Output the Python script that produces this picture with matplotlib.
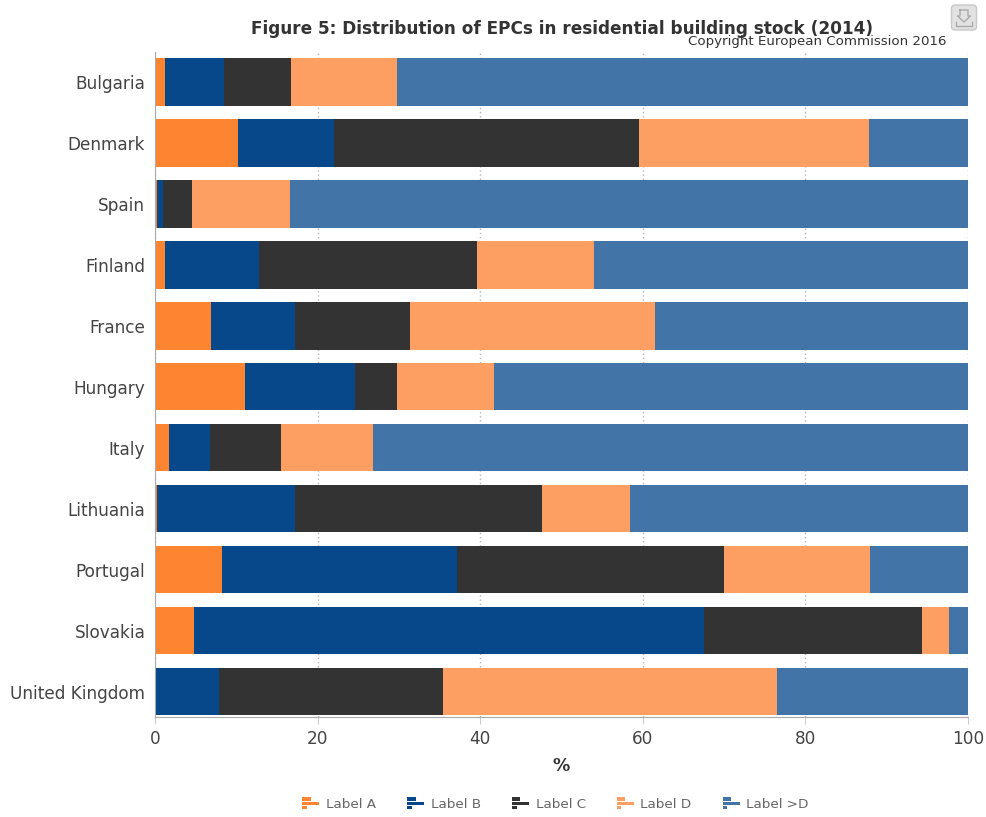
import matplotlib
matplotlib.use("Agg")
import matplotlib.pyplot as plt
import numpy as np
from matplotlib.legend_handler import HandlerBase
from matplotlib.patches import FancyBboxPatch, Rectangle
from matplotlib.lines import Line2D

countries = ["Bulgaria", "Denmark", "Spain", "Finland", "France", "Hungary",
             "Italy", "Lithuania", "Portugal", "Slovakia", "United Kingdom"]
label_a = [1.2, 10.2, 0.2, 1.2, 6.9, 11.1, 1.7, 0.3, 8.3, 4.8, 0.1]
label_b = [7.3, 11.8, 0.8, 11.6, 10.3, 13.5, 5.1, 16.9, 28.8, 62.7, 7.8]
label_c = [8.2, 37.5, 3.5, 26.8, 14.2, 5.2, 8.7, 30.4, 32.9, 26.9, 27.5]
label_d = [13.1, 28.3, 12.1, 14.4, 30.1, 11.9, 11.3, 10.8, 18.0, 3.3, 41.1]
label_gt_d = [70.2, 12.2, 83.4, 46.0, 38.5, 58.3, 73.2, 41.6, 12.0, 2.3, 23.5]

series_names = ["Label A", "Label B", "Label C", "Label D", "Label >D"]
series_values = [label_a, label_b, label_c, label_d, label_gt_d]
series_colors = ["#FD8532", "#07488A", "#333333", "#FD9F63", "#4274A8"]

plt.rcParams["font.family"] = ["DejaVu Sans"]
W, H = 987, 817
fig = plt.figure(figsize=(W / 100, H / 100), dpi=100, facecolor="white")
ax = fig.add_axes([155 / W, 1 - 716.5 / H, (968 - 155) / W, (716.5 - 52) / H])

y = np.arange(len(countries))
left = np.zeros(len(countries))
for name, vals, col in zip(series_names, series_values, series_colors):
    vals = np.array(vals)
    ax.barh(y, vals, left=left, height=0.78, color=col, label=name, zorder=3)
    left += vals

ax.set_xlim(0, 100)
ax.set_ylim(10.41, -0.49)
ax.set_yticks(y, countries)
ax.set_xticks(range(0, 101, 20))
ax.xaxis.grid(True, color="#b5b5b5", linestyle=(0, (1, 2)), linewidth=1, zorder=0)
ax.set_axisbelow(True)

for side in ("top", "right"):
    ax.spines[side].set_visible(False)
ax.spines["left"].set_color("#aaaaaa")
ax.spines["bottom"].set_color("#aaaaaa")
ax.spines["left"].set_zorder(5)
ax.spines["bottom"].set_zorder(5)

ax.tick_params(axis="y", length=0, pad=7, labelsize=12.2, labelcolor="#444444")
ax.tick_params(axis="x", length=5, color="#cccccc", pad=5, labelsize=12.2, labelcolor="#444444")
ax.set_xlabel("%", fontsize=12.5, fontweight="bold", color="#333333", labelpad=6)

fig.text(562 / W, 1 - 29 / H, "Figure 5: Distribution of EPCs in residential building stock (2014)",
         ha="center", va="center", fontsize=12.15, fontweight="bold", color="#333333")
fig.text(947 / W, 1 - 41 / H, "Copyright European Commission 2016",
         ha="right", va="center", fontsize=9.6, color="#333333")


class BarIconHandler(HandlerBase):
    """Small three-bar glyph used as the legend key."""

    def create_artists(self, legend, orig, xd, yd, width, height, fontsize, trans):
        col = orig.get_color()
        rows = [(0.5, 0.72), (1.0, 0.38), (0.28, 0.04)]
        return [Rectangle((-xd, -yd + height * b), width * w, height * 0.24,
                          facecolor=col, edgecolor="none", transform=trans)
                for w, b in rows]


handles = [Line2D([], [], color=c) for c in series_colors]
leg = fig.legend(handles, series_names, loc="center", bbox_to_anchor=(555.5 / W, 1 - 804 / H),
                 ncol=5, frameon=False, fontsize=9.7, labelcolor="#666666",
                 handler_map={Line2D: BarIconHandler()}, handlelength=1.26, handleheight=1.1,
                 handletextpad=0.5, columnspacing=2.3)

# Export button in the upper right corner
fig.add_artist(FancyBboxPatch((951.5 / W, 1 - 30 / H), 25 / W, 25 / H,
                              boxstyle="round,pad=0,rounding_size=0.004",
                              transform=fig.transFigure, facecolor="#e2e2e2",
                              edgecolor="#c8c8c8", linewidth=1))
fig.add_artist(Line2D([960 / W, 960 / W, 957.5 / W, 964 / W, 970.5 / W, 968 / W, 968 / W, 960 / W],
                      [1 - 10 / H, 1 - 16 / H, 1 - 16 / H, 1 - 22 / H, 1 - 16 / H, 1 - 16 / H, 1 - 10 / H, 1 - 10 / H],
                      color="#aaaaaa", linewidth=1, transform=fig.transFigure))
fig.add_artist(Line2D([956 / W, 956 / W, 972 / W, 972 / W],
                      [1 - 22 / H, 1 - 26 / H, 1 - 26 / H, 1 - 22 / H],
                      color="#aaaaaa", linewidth=1, transform=fig.transFigure))

fig.savefig("out.png", dpi=100, facecolor="white")
